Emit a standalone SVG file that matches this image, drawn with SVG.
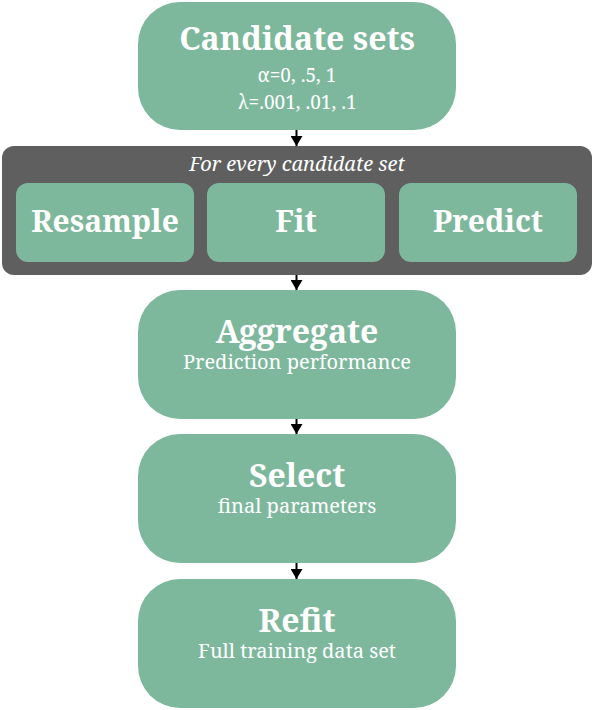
<svg xmlns="http://www.w3.org/2000/svg" width="593" height="710" viewBox="0 0 593 710">
<style>
.n{fill:#7db89d}
.t{font-family:"Noto Serif","DejaVu Serif","Liberation Serif",serif;fill:#ffffff;text-anchor:middle}
.b{font-weight:bold;font-size:32px}
.m{font-weight:bold;font-size:30px}
.s{font-size:20px}
.c{stroke:#000;stroke-width:2;fill:none}
</style>
<defs>
<marker id="ah" viewBox="0 0 10 12" refX="10" refY="6" markerWidth="10" markerHeight="12" markerUnits="userSpaceOnUse" orient="auto">
<path d="M0,0 L10,6 L0,12 z" fill="#000"/>
</marker>
</defs>
<g id="candidate">
<rect class="n" x="138" y="2" width="318" height="128" rx="42"/>
<text class="t b" x="297" y="50">Candidate sets</text>
<text class="t" x="297" y="82" style="font-size:19px">α=0, .5, 1</text>
<text class="t" x="297" y="109" style="font-size:19px">λ=.001, .01, .1</text>
</g>
<g id="loop">
<rect x="2" y="146" width="590" height="129" rx="12" fill="#5f5f5f"/>
<text class="t" x="297" y="171" style="font-size:20px;font-style:italic">For every candidate set</text>
</g>
<g id="resample">
<rect class="n" x="16" y="183" width="178" height="79" rx="12"/>
<text class="t m" x="105" y="232">Resample</text>
</g>
<g id="fit">
<rect class="n" x="207" y="183" width="178" height="79" rx="12"/>
<text class="t m" x="296" y="232">Fit</text>
</g>
<g id="predict">
<rect class="n" x="399" y="183" width="178" height="79" rx="12"/>
<text class="t m" x="488" y="232">Predict</text>
</g>
<g id="aggregate">
<rect class="n" x="138" y="290" width="318" height="129" rx="42"/>
<text class="t b" x="297" y="343">Aggregate</text>
<text class="t s" x="297" y="369">Prediction performance</text>
</g>
<g id="select">
<rect class="n" x="138" y="434" width="318" height="129" rx="42"/>
<text class="t b" x="297" y="487">Select</text>
<text class="t s" x="297" y="513">final parameters</text>
</g>
<g id="refit">
<rect class="n" x="138" y="579" width="318" height="129" rx="42"/>
<text class="t b" x="297" y="632">Refit</text>
<text class="t s" x="297" y="658">Full training data set</text>
</g>
<g id="connectors">
<line class="c" x1="296.5" y1="130" x2="296.5" y2="146" marker-end="url(#ah)"/>
<line class="c" x1="296.5" y1="275" x2="296.5" y2="290" marker-end="url(#ah)"/>
<line class="c" x1="296.5" y1="419" x2="296.5" y2="434" marker-end="url(#ah)"/>
<line class="c" x1="296.5" y1="563" x2="296.5" y2="579" marker-end="url(#ah)"/>
</g>
</svg>
